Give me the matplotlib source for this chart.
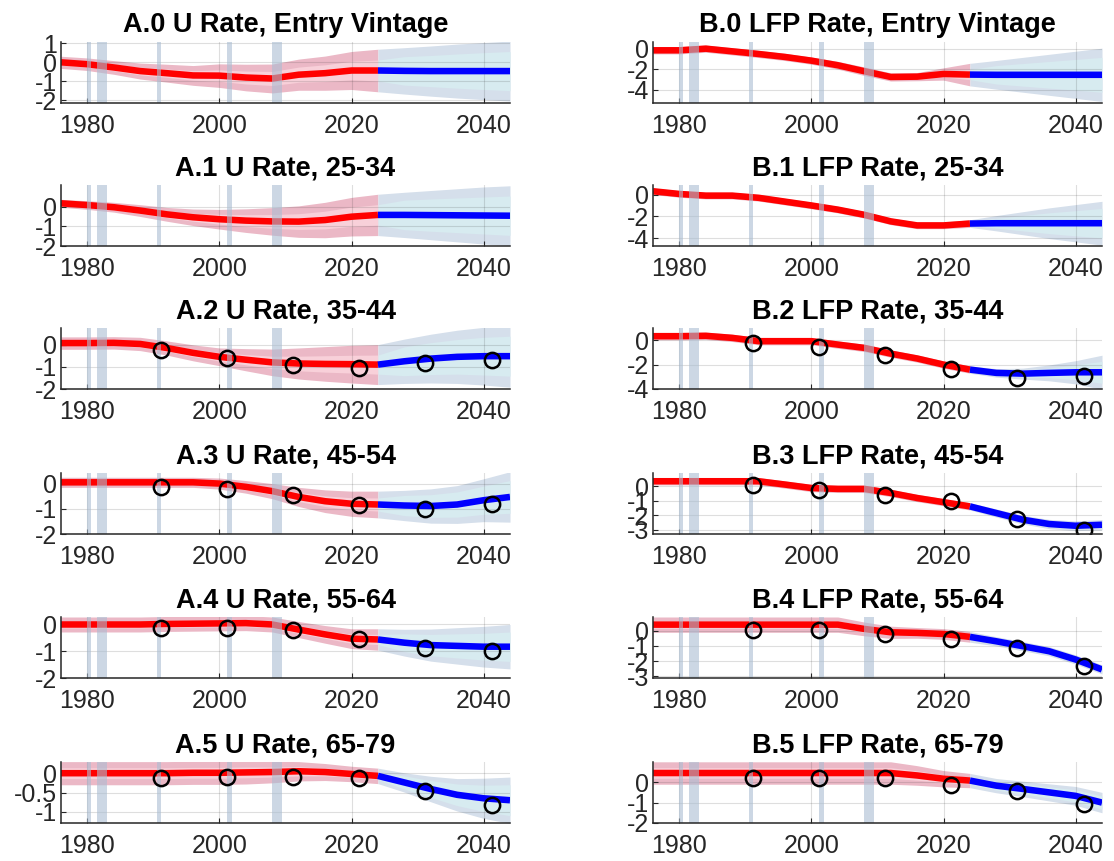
import numpy as np
import matplotlib
matplotlib.use("Agg")
from matplotlib import pyplot as plt

plt.rcParams['font.family'] = ['Liberation Sans', 'DejaVu Sans']
plt.rcParams['axes.unicode_minus'] = False

# common grid of years, history up to 2024 then projection
years = [1976, 1980, 1984, 1988, 1992, 1996, 2000, 2004, 2008, 2012,
         2016, 2020, 2024, 2028, 2032, 2036, 2040, 2044]
split = 2024
circle_years = [1991.2, 2001.2, 2011.2, 2021.2, 2031.2, 2041.2]
recessions = [(1980.0, 1980.5), (1981.5, 1982.9), (1990.5, 1991.2),
              (2001.2, 2001.9), (2007.9, 2009.5)]

# unemployment rate effects
a0_mid = [0.0, -0.10, -0.27, -0.46, -0.57, -0.69, -0.70, -0.80, -0.85, -0.65,
          -0.57, -0.43, -0.43, -0.45, -0.46, -0.46, -0.46, -0.46]
a0_outer = [0.32, 0.33, 0.36, 0.42, 0.47, 0.52, 0.62, 0.70, 0.76, 0.82,
            0.90, 1.00, 1.12, 1.22, 1.32, 1.42, 1.50, 1.58]
a0_inner = [0.15, 0.16, 0.17, 0.20, 0.22, 0.25, 0.30, 0.34, 0.37, 0.40,
            0.44, 0.49, 0.55, 0.75, 0.82, 0.90, 0.97, 1.03]

a1_mid = [0.17, 0.08, -0.03, -0.20, -0.39, -0.54, -0.64, -0.71, -0.75, -0.76,
          -0.68, -0.51, -0.42, -0.42, -0.43, -0.44, -0.45, -0.46]
a1_outer = [0.20, 0.22, 0.25, 0.30, 0.35, 0.42, 0.50, 0.60, 0.70, 0.80,
            0.90, 0.98, 1.05, 1.15, 1.25, 1.35, 1.45, 1.52]
a1_inner = [0.10, 0.11, 0.12, 0.15, 0.17, 0.20, 0.25, 0.30, 0.35, 0.40,
            0.45, 0.49, 0.52, 0.75, 0.82, 0.88, 0.94, 1.00]

a2_mid = [0.07, 0.07, 0.08, 0.03, -0.15, -0.37, -0.55, -0.68, -0.80, -0.85,
          -0.87, -0.88, -0.90, -0.75, -0.63, -0.55, -0.52, -0.52]
a2_outer = [0.28, 0.28, 0.28, 0.30, 0.32, 0.36, 0.40, 0.50, 0.60, 0.70,
            0.78, 0.85, 0.90, 1.00, 1.10, 1.20, 1.30, 1.40]
a2_inner = [0.13, 0.13, 0.13, 0.14, 0.15, 0.17, 0.19, 0.23, 0.28, 0.33,
            0.37, 0.40, 0.43, 0.65, 0.72, 0.78, 0.85, 0.90]
a2_circ = [-0.25, -0.58, -0.91, -1.07, -0.85, -0.70]

a3_mid = [0.05, 0.05, 0.05, 0.05, 0.05, 0.05, 0.0, -0.13, -0.30, -0.53,
          -0.70, -0.80, -0.83, -0.87, -0.89, -0.83, -0.66, -0.53]
a3_outer = [0.20, 0.20, 0.20, 0.20, 0.20, 0.20, 0.22, 0.25, 0.30, 0.38,
            0.45, 0.50, 0.53, 0.60, 0.68, 0.75, 0.85, 1.00]
a3_inner = [0.09, 0.09, 0.09, 0.09, 0.09, 0.09, 0.10, 0.12, 0.14, 0.18,
            0.21, 0.24, 0.26, 0.40, 0.45, 0.50, 0.56, 0.65]
a3_circ = [-0.13, -0.20, -0.47, -0.86, -0.99, -0.80]

a4_mid = [0.0, 0.0, 0.0, 0.0, 0.02, 0.03, 0.04, 0.05, 0.0, -0.19,
          -0.37, -0.53, -0.56, -0.68, -0.77, -0.80, -0.83, -0.83]
a4_outer = [0.28, 0.28, 0.28, 0.28, 0.28, 0.28, 0.28, 0.28, 0.28, 0.30,
            0.33, 0.37, 0.40, 0.50, 0.60, 0.68, 0.76, 0.83]
a4_inner = [0.13, 0.13, 0.13, 0.13, 0.13, 0.13, 0.13, 0.13, 0.13, 0.14,
            0.15, 0.17, 0.19, 0.33, 0.40, 0.45, 0.50, 0.55]
a4_circ = [-0.12, -0.12, -0.19, -0.53, -0.89, -0.99]

a5_mid = [0.0, 0.0, 0.0, 0.0, 0.0, 0.01, 0.01, 0.02, 0.03, 0.05,
          0.03, -0.02, -0.07, -0.24, -0.41, -0.56, -0.65, -0.70]
a5_outer = [0.30, 0.30, 0.30, 0.30, 0.30, 0.30, 0.30, 0.30, 0.28, 0.25,
            0.22, 0.20, 0.20, 0.25, 0.33, 0.42, 0.52, 0.60]
a5_inner = [0.14, 0.14, 0.14, 0.14, 0.14, 0.14, 0.14, 0.14, 0.13, 0.12,
            0.10, 0.09, 0.09, 0.17, 0.22, 0.28, 0.34, 0.40]
a5_circ = [-0.12, -0.10, -0.09, -0.12, -0.46, -0.82]

# labour force participation effects
b0_mid = [-0.16, -0.16, 0.0, -0.26, -0.52, -0.81, -1.17, -1.62, -2.20, -2.76,
          -2.73, -2.47, -2.53, -2.55, -2.55, -2.55, -2.55, -2.55]
b0_outer = [0.35, 0.35, 0.35, 0.35, 0.35, 0.35, 0.35, 0.38, 0.42, 0.40,
            0.40, 0.60, 1.10, 1.40, 1.70, 2.00, 2.30, 2.60]
b0_inner = [0.17, 0.17, 0.17, 0.17, 0.17, 0.17, 0.17, 0.18, 0.20, 0.19,
            0.19, 0.28, 0.50, 0.90, 1.10, 1.30, 1.50, 1.70]

b1_mid = [0.30, 0.05, -0.10, -0.10, -0.30, -0.65, -1.00, -1.38, -1.85, -2.45,
          -2.82, -2.82, -2.65, -2.62, -2.62, -2.62, -2.62, -2.62]
b1_outer = [0.30, 0.30, 0.30, 0.30, 0.30, 0.30, 0.30, 0.30, 0.30, 0.30,
            0.30, 0.30, 0.35, 0.70, 1.05, 1.40, 1.70, 2.00]
b1_inner = [0.14, 0.14, 0.14, 0.14, 0.14, 0.14, 0.14, 0.14, 0.14, 0.14,
            0.14, 0.14, 0.16, 0.45, 0.70, 0.95, 1.15, 1.35]

b2_mid = [0.33, 0.33, 0.36, 0.19, -0.08, -0.08, -0.08, -0.36, -0.63, -1.10,
          -1.50, -2.00, -2.41, -2.68, -2.74, -2.68, -2.63, -2.63]
b2_outer = [0.30, 0.30, 0.30, 0.30, 0.30, 0.30, 0.30, 0.30, 0.30, 0.30,
            0.30, 0.30, 0.30, 0.35, 0.45, 0.65, 0.95, 1.40]
b2_inner = [0.14, 0.14, 0.14, 0.14, 0.14, 0.14, 0.14, 0.14, 0.14, 0.14,
            0.14, 0.14, 0.14, 0.20, 0.28, 0.40, 0.60, 0.90]
b2_circ = [-0.22, -0.55, -1.18, -2.33, -3.10, -2.90]

b3_mid = [0.35, 0.35, 0.35, 0.35, 0.35, 0.12, -0.12, -0.18, -0.18, -0.46,
          -0.81, -1.10, -1.39, -1.85, -2.31, -2.61, -2.73, -2.66]
b3_outer = [0.25, 0.25, 0.25, 0.25, 0.25, 0.25, 0.25, 0.25, 0.25, 0.25,
            0.25, 0.25, 0.25, 0.28, 0.30, 0.32, 0.34, 0.36]
b3_inner = [0.12, 0.12, 0.12, 0.12, 0.12, 0.12, 0.12, 0.12, 0.12, 0.12,
            0.12, 0.12, 0.12, 0.16, 0.18, 0.20, 0.22, 0.24]
b3_circ = [0.12, -0.23, -0.58, -1.04, -2.24, -3.00]

b4_mid = [0.39, 0.39, 0.39, 0.39, 0.39, 0.39, 0.39, 0.39, 0.11, -0.11,
          -0.15, -0.22, -0.41, -0.70, -1.02, -1.35, -1.89, -2.54]
b4_outer = [0.50, 0.50, 0.50, 0.50, 0.50, 0.50, 0.50, 0.50, 0.45, 0.40,
            0.35, 0.35, 0.35, 0.30, 0.30, 0.30, 0.30, 0.30]
b4_inner = [0.24, 0.24, 0.24, 0.24, 0.24, 0.24, 0.24, 0.24, 0.22, 0.19,
            0.17, 0.17, 0.17, 0.18, 0.18, 0.18, 0.18, 0.18]
b4_circ = [0.07, 0.07, -0.20, -0.54, -1.13, -2.33]

b5_mid = [0.45, 0.45, 0.45, 0.45, 0.45, 0.45, 0.45, 0.45, 0.45, 0.45,
          0.33, 0.17, 0.08, -0.17, -0.33, -0.50, -0.67, -1.00]
b5_outer = [0.55, 0.55, 0.55, 0.55, 0.55, 0.55, 0.55, 0.55, 0.55, 0.55,
            0.48, 0.40, 0.35, 0.35, 0.38, 0.42, 0.46, 0.50]
b5_inner = [0.26, 0.26, 0.26, 0.26, 0.26, 0.26, 0.26, 0.26, 0.26, 0.26,
            0.23, 0.19, 0.17, 0.22, 0.24, 0.27, 0.30, 0.32]
b5_circ = [0.22, 0.22, 0.22, -0.12, -0.42, -1.08]

titles_a = ['A.0 U Rate, Entry Vintage', 'A.1 U Rate, 25-34', 'A.2 U Rate, 35-44',
            'A.3 U Rate, 45-54', 'A.4 U Rate, 55-64', 'A.5 U Rate, 65-79']
titles_b = ['B.0 LFP Rate, Entry Vintage', 'B.1 LFP Rate, 25-34', 'B.2 LFP Rate, 35-44',
            'B.3 LFP Rate, 45-54', 'B.4 LFP Rate, 55-64', 'B.5 LFP Rate, 65-79']

panels_a = [
    (a0_mid, a0_outer, a0_inner, None, (-2.14, 1.07), [-2, -1, 0, 1]),
    (a1_mid, a1_outer, a1_inner, None, (-2.0, 1.1), [-2, -1, 0]),
    (a2_mid, a2_outer, a2_inner, a2_circ, (-2.0, 0.75), [-2, -1, 0]),
    (a3_mid, a3_outer, a3_inner, a3_circ, (-2.0, 0.42), [-2, -1, 0]),
    (a4_mid, a4_outer, a4_inner, a4_circ, (-2.0, 0.28), [-2, -1, 0]),
    (a5_mid, a5_outer, a5_inner, a5_circ, (-1.29, 0.29), [-1, -0.5, 0]),
]
panels_b = [
    (b0_mid, b0_outer, b0_inner, None, (-5.3, 0.65), [-4, -2, 0]),
    (b1_mid, b1_outer, b1_inner, None, (-4.7, 0.87), [-4, -2, 0]),
    (b2_mid, b2_outer, b2_inner, b2_circ, (-4.0, 1.0), [-4, -2, 0]),
    (b3_mid, b3_outer, b3_inner, b3_circ, (-3.3, 0.92), [-3, -2, -1, 0]),
    (b4_mid, b4_outer, b4_inner, b4_circ, (-3.1, 0.89), [-3, -2, -1, 0]),
    (b5_mid, b5_outer, b5_inner, b5_circ, (-2.0, 0.99), [-2, -1, 0]),
]

pink_outer = '#ebb8c6'
pink_inner = '#f8d0d9'
blue_outer = '#d5dfeb'
blue_inner = '#d7ebf0'
rec_color = '#aabdd2'


def draw_panel(ax, title, mid, outer, inner, circ, ylim, yticks):
    x = np.array(years, dtype=float)
    m = np.array(mid)
    o = np.array(outer)
    i = np.array(inner)
    hist = x <= split
    fut = x >= split

    ax.fill_between(x[hist], m[hist] - o[hist], m[hist] + o[hist],
                    color=pink_outer, lw=0, zorder=1)
    ax.fill_between(x[hist], m[hist] - i[hist], m[hist] + i[hist],
                    color=pink_inner, lw=0, zorder=1.1)
    ax.fill_between(x[fut], m[fut] - o[fut], m[fut] + o[fut],
                    color=blue_outer, lw=0, zorder=1)
    ax.fill_between(x[fut], m[fut] - i[fut], m[fut] + i[fut],
                    color=blue_inner, lw=0, zorder=1.1)

    ax.plot(x[hist], m[hist], color='red', lw=4.7, solid_capstyle='butt',
            solid_joinstyle='round', zorder=3)
    ax.plot(x[fut], m[fut], color='blue', lw=4.7, solid_capstyle='butt',
            solid_joinstyle='round', zorder=3)

    for r0, r1 in recessions:
        ax.axvspan(r0, r1, color=rec_color, alpha=0.6, lw=0, zorder=4)

    if circ is not None:
        ax.plot(circle_years, circ, linestyle='none', marker='o',
                markersize=11, markerfacecolor='none', markeredgecolor='black',
                markeredgewidth=1.8, zorder=6)

    ax.set_xlim(1976, 2044)
    ax.set_ylim(*ylim)
    ax.set_xticks([1980, 2000, 2020, 2040])
    ax.set_yticks(yticks)
    ax.set_yticklabels([('%g' % t) for t in yticks])
    ax.grid(True, color='#262626', alpha=0.15, lw=0.8)
    ax.set_axisbelow(False)
    for s in ['top', 'right']:
        ax.spines[s].set_visible(False)
    for s in ['left', 'bottom']:
        ax.spines[s].set_color('#262626')
        ax.spines[s].set_linewidth(1.1)
        ax.spines[s].set_zorder(7)
    ax.tick_params(direction='in', length=3.5, width=0.8, colors='#262626',
                   labelsize=18, pad=3)
    ax.tick_params(axis='x', pad=8)
    ax.set_title(title, fontsize=19.5, fontweight='bold', pad=7)


fig = plt.figure(figsize=(11.14, 8.61), dpi=100)

W, H = 1114.0, 861.0
row_tops = [42, 185, 328, 473, 617, 762]
ax_h = 61
col_left = [61, 653]
ax_w = 449

for k in range(6):
    bottom = 1 - (row_tops[k] + ax_h) / H
    axa = fig.add_axes([col_left[0] / W, bottom, ax_w / W, ax_h / H])
    draw_panel(axa, titles_a[k], *panels_a[k])
    axb = fig.add_axes([col_left[1] / W, bottom, ax_w / W, ax_h / H])
    draw_panel(axb, titles_b[k], *panels_b[k])

fig.savefig('out.png', dpi=100, facecolor='white')
